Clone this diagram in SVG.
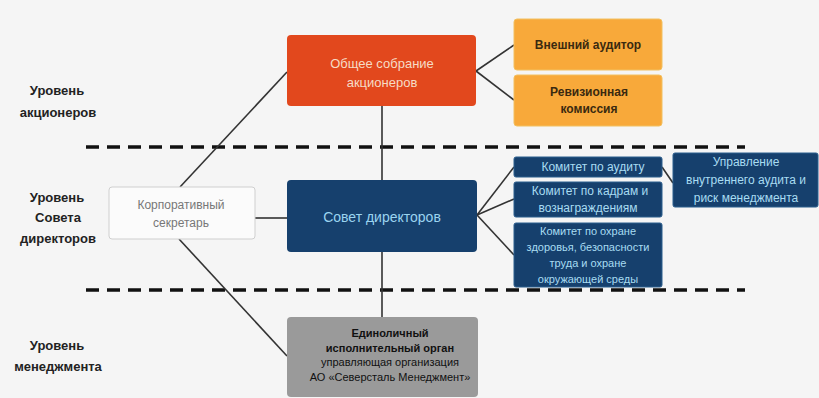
<svg xmlns="http://www.w3.org/2000/svg" width="819" height="398" viewBox="0 0 819 398">
<style>
text{font-family:"Liberation Sans",Arial,sans-serif;text-anchor:middle;dominant-baseline:central}
.lvl{font-size:13px;font-weight:bold;fill:#222}
.conn line{stroke:#333;stroke-width:1.6}
.dash{stroke:#111;stroke-width:3.5;stroke-dasharray:13 8}
.red{fill:#e2481d}
.org{fill:#f8a93a;stroke:#f2c060;stroke-width:1}
.blue{fill:#16406d}
.blue2{fill:#16406d;stroke:#2b5e8e;stroke-width:1}
.tl{fill:#9bd4f0}
.tw{fill:#f6dcc6;font-size:13px}
.tb{font-size:12px;font-weight:bold;fill:#3a2a10}
.tc{font-size:12px;fill:#a8dcf2}
.ts{font-size:11px;fill:#a8dcf2}
.tg{font-size:11px;fill:#111}
</style>
<rect width="819" height="398" fill="#f5f5f5"/>
<g id="levels">
<text class="lvl" x="57" y="90">Уровень</text>
<text class="lvl" x="58" y="112">акционеров</text>
<text class="lvl" x="57" y="197">Уровень</text>
<text class="lvl" x="58" y="217">Совета</text>
<text class="lvl" x="58" y="238">директоров</text>
<text class="lvl" x="57" y="345">Уровень</text>
<text class="lvl" x="58" y="366">менеджмента</text>
</g>
<g id="dividers">
<line class="dash" x1="86" y1="147" x2="745" y2="147"/>
<line class="dash" x1="86" y1="290" x2="745" y2="290"/>
</g>
<g id="connectors" class="conn">
<line x1="180" y1="187" x2="287" y2="72"/>
<line x1="255" y1="218" x2="287" y2="218"/>
<line x1="179" y1="239" x2="287" y2="356"/>
<line x1="382" y1="106" x2="382" y2="180"/>
<line x1="382" y1="252" x2="382" y2="317"/>
<line x1="476" y1="71" x2="514" y2="45"/>
<line x1="476" y1="71" x2="514" y2="100"/>
<line x1="477" y1="215" x2="514" y2="167"/>
<line x1="477" y1="215" x2="514" y2="199"/>
<line x1="477" y1="215" x2="514" y2="255"/>
<line x1="662" y1="167" x2="673" y2="183"/>
</g>
<g id="osa">
<rect class="red" x="287" y="35" width="189" height="71" rx="4"/>
<text class="tw" x="382" y="63">Общее собрание</text>
<text class="tw" x="382" y="82">акционеров</text>
</g>
<g id="ext-auditor">
<rect class="org" x="514" y="19" width="148" height="51" rx="3"/>
<text class="tb" x="588" y="45">Внешний аудитор</text>
</g>
<g id="revision">
<rect class="org" x="514" y="75" width="148" height="51" rx="3"/>
<text class="tb" x="589" y="92">Ревизионная</text>
<text class="tb" x="589" y="109">комиссия</text>
</g>
<g id="secretary">
<rect x="109" y="187" width="146" height="52" rx="3" fill="#fbfbfb" stroke="#cfcfcf"/>
<text x="181" y="205" font-size="12" fill="#777">Корпоративный</text>
<text x="181" y="223" font-size="12" fill="#777">секретарь</text>
</g>
<g id="board">
<rect class="blue" x="287" y="180" width="190" height="72" rx="4"/>
<text class="tl" x="382" y="217" font-size="14">Совет директоров</text>
</g>
<g id="audit-committee">
<rect class="blue2" x="514" y="157" width="148" height="20" rx="2"/>
<text class="tc" x="593" y="167">Комитет по аудиту</text>
</g>
<g id="hr-committee">
<rect class="blue2" x="514" y="182" width="148" height="35" rx="2"/>
<text class="tc" x="590" y="191">Комитет по кадрам и</text>
<text class="tc" x="588" y="208">вознаграждениям</text>
</g>
<g id="hse-committee">
<rect class="blue2" x="514" y="223" width="148" height="64" rx="2"/>
<text class="ts" x="588" y="231">Комитет по охране</text>
<text class="ts" x="588" y="247">здоровья, безопасности</text>
<text class="ts" x="588" y="263">труда и охране</text>
<text class="ts" x="588" y="279">окружающей среды</text>
</g>
<g id="internal-audit">
<rect class="blue2" x="673" y="153" width="145" height="54" rx="2"/>
<text class="tc" x="746" y="162">Управление</text>
<text class="tc" x="746" y="180">внутреннего аудита и</text>
<text class="tc" x="746" y="198">риск менеджмента</text>
</g>
<g id="ceo">
<rect x="287" y="317" width="191" height="80" rx="4" fill="#9a9a9a"/>
<text class="tg" x="390" y="333" font-size="10.5" font-weight="bold">Единоличный</text>
<text class="tg" x="390" y="348" font-size="10.5" font-weight="bold">исполнительный орган</text>
<text class="tg" x="390" y="362">управляющая организация</text>
<text class="tg" x="390" y="377">АО «Северсталь Менеджмент»</text>
</g>
</svg>
